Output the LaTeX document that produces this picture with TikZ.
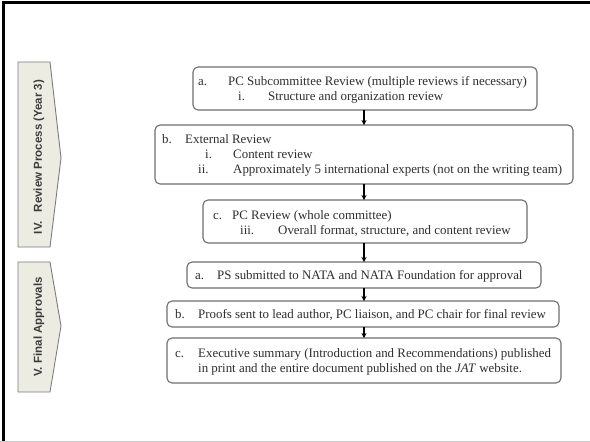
\documentclass[tikz,border=0pt]{standalone}
\usepackage{fontspec}
\setmainfont{Liberation Serif}
\newfontfamily\labelfont{Liberation Sans}
\usetikzlibrary{arrows.meta}
\definecolor{txt}{HTML}{2E2E2E}
\definecolor{boxline}{HTML}{6E6E6E}
\definecolor{tabfill}{HTML}{ECECE2}
\definecolor{tabline}{HTML}{7C7C7C}
\definecolor{tabtext}{HTML}{3C3C3C}
\begin{document}
\begin{tikzpicture}[x=1pt,y=-1pt,
  stagebox/.style={draw=boxline,line width=1.1pt,rounded corners=5pt,fill=white,
    inner sep=0pt,outer sep=0pt,anchor=north west},
  line/.style={anchor=base west,inner sep=0pt,text=txt,font=\fontsize{12.9}{15}\selectfont},
  flow/.style={draw=black,line width=1.3pt,-{Stealth[length=5pt,width=5pt]}},
  tab/.style={draw=tabline,fill=tabfill,line width=0.9pt},
  tablabel/.style={rotate=90,text=tabtext,inner sep=0pt,font=\labelfont\bfseries\fontsize{11.5}{13}\selectfont}]
\useasboundingbox (0,0) rectangle (590,442);
\fill[white] (0,0) rectangle (590,442);
% page frame
\draw[black,line width=3pt] (3,442) -- (3,2.5) -- (590,2.5);
\draw[gray!40,line width=1pt] (0,441.5) -- (590,441.5);

% stage tabs
\draw[tab] (18,62) -- (50,62) -- (61,158) -- (50,247) -- (18,247) -- cycle;
\node[tablabel] (tabIV) at (39,157) {IV.\hspace{9pt}Review Process (Year 3)};
\draw[tab] (18,262) -- (50,262) -- (61,326) -- (50,392) -- (18,392) -- cycle;
\node[tablabel] (tabV) at (39,327) {V. Final Approvals};

% boxes
\node[stagebox,minimum width=344pt,minimum height=43pt] (a1) at (193,67) {};
\node[stagebox,minimum width=418pt,minimum height=59pt] (b1) at (155,125) {};
\node[stagebox,minimum width=324pt,minimum height=43pt] (c1) at (203,200) {};
\node[stagebox,minimum width=354pt,minimum height=26pt] (a2) at (187,262) {};
\node[stagebox,minimum width=392pt,minimum height=26pt] (b2) at (167,301) {};
\node[stagebox,minimum width=394pt,minimum height=45pt] (c2) at (167,338) {};

% box texts
\node[line] (a1m) at (198,85) {a.};
\node[line] (a1t) at (228,85) {PC Subcommittee Review (multiple reviews if necessary)};
\node[line] (a1im) at (238,100) {i.};
\node[line] (a1it) at (268,100) {Structure and organization review};

\node[line] (b1m) at (162,143) {b.};
\node[line] (b1t) at (185,143) {External Review};
\node[line] (b1im) at (205,158) {i.};
\node[line] (b1it) at (233,158) {Content review};
\node[line] (b1iim) at (198,173) {ii.};
\node[line] (b1iit) at (233,173) {Approximately 5 international experts (not on the writing team)};

\node[line] (c1m) at (213,219) {c.};
\node[line] (c1t) at (232,219) {PC Review (whole committee)};
\node[line] (c1im) at (240,234) {iii.};
\node[line] (c1it) at (278,234) {Overall format, structure, and content review};

\node[line] (a2m) at (195,279) {a.};
\node[line] (a2t) at (217,279) {PS submitted to NATA and NATA Foundation for approval};

\node[line] (b2m) at (175,318) {b.};
\node[line] (b2t) at (198,318) {Proofs sent to lead author, PC liaison, and PC chair for final review};

\node[line] (c2m) at (175,357) {c.};
\node[line] (c2t) at (198,357) {Executive summary (Introduction and Recommendations) published};
\node[line] (c2u) at (198,372) {in print and the entire document published on the \textit{JAT} website.};

% connectors
\draw[flow] (a1.south -| 364,0) -- (b1.north -| 364,0);
\draw[flow] (b1.south -| 364,0) -- (c1.north -| 364,0);
\draw[flow] (c1.south -| 364,0) -- (a2.north -| 364,0);
\draw[flow] (a2.south -| 364,0) -- (b2.north -| 364,0);
\draw[flow] (b2.south -| 364,0) -- (c2.north -| 364,0);
\end{tikzpicture}
\end{document}
